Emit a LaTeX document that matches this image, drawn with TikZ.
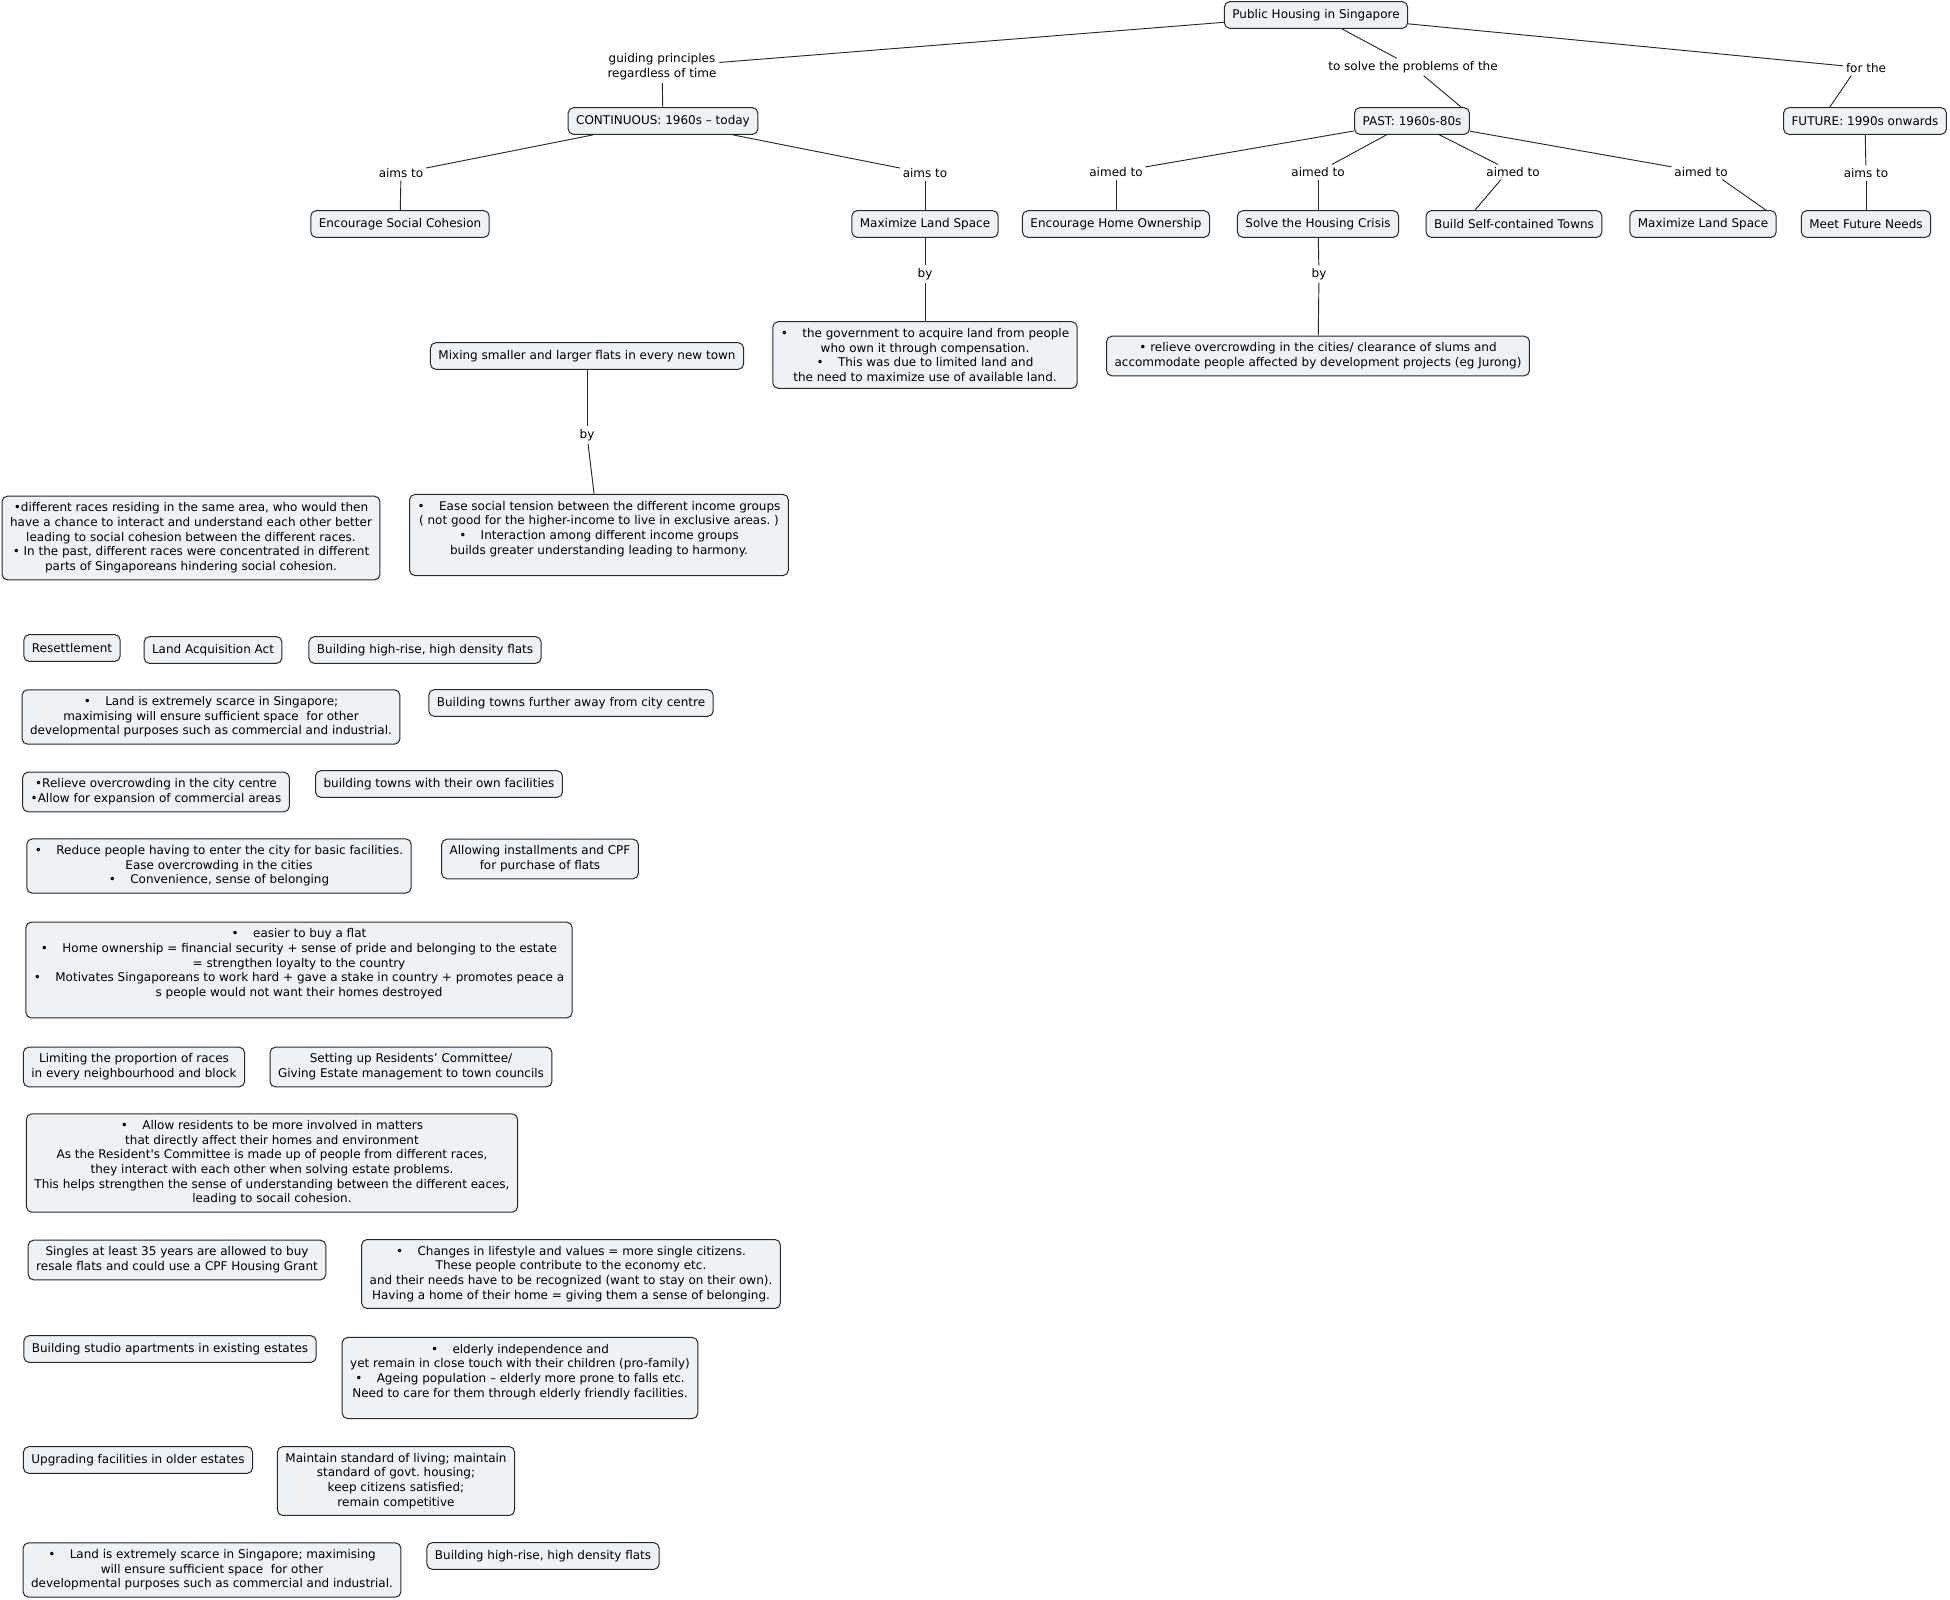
\documentclass[tikz,border=0pt]{standalone}
\usepackage{fontspec}
\setmainfont{DejaVu Sans}
\usepackage{tikz}
\frenchspacing
\definecolor{cmap_fill}{RGB}{236, 242, 245}
\definecolor{cmap_line}{RGB}{40, 40, 40}
\newcommand{\bpt}{•\hspace{1.2em}}
\tikzset{
  concept/.style = {draw=cmap_line, fill=cmap_fill, rounded corners=4pt, align=center,
  inner xsep=6pt, inner ysep=5pt, line width=0.75pt},
  single/.style = {concept, minimum height=20pt},
  linkword/.style = {align=center, inner sep=2pt}
}

\begin{document}
\begin{tikzpicture}[x=0.75pt, y=-0.75pt, font=\fontsize{9}{11}\selectfont,
	        link/.style={draw=cmap_line, line width=0.7pt}]
	        \useasboundingbox (0,0) rectangle (1950,1600);
	        % top of the map
	        \node [single] (phs) at (1316,15) {Public Housing in Singapore};
	        \node [linkword] (guide) at (662,67) {guiding principles\\regardless of time};
	        \node [linkword] (solve) at (1413,67) {to solve the problems of the};
	        \node [linkword] (forthe) at (1866,68) {for the};
	        \node [single] (cont) at (663,121) {CONTINUOUS: 1960s – today};
	        \node [single] (past) at (1412,121) {PAST: 1960s-80s};
	        \node [single] (fut) at (1865,121) {FUTURE: 1990s onwards};
	        \node [linkword] (aim1) at (401,173) {aims to};
	        \node [linkword] (aim2) at (925,173) {aims to};
	        \node [linkword] (pa1) at (1116,172) {aimed to};
	        \node [linkword] (pa2) at (1318,172) {aimed to};
	        \node [linkword] (pa3) at (1513,172) {aimed to};
	        \node [linkword] (pa4) at (1701,172) {aimed to};
	        \node [linkword] (fa) at (1866,173) {aims to};
	        \node [single] (soc) at (400,224) {Encourage Social Cohesion};
	        \node [single] (maxl) at (925,224) {Maximize Land Space};
	        \node [single] (home) at (1116,224) {Encourage Home Ownership};
	        \node [single] (crisis) at (1318,224) {Solve the Housing Crisis};
	        \node [single] (towns) at (1514,224) {Build Self-contained Towns};
	        \node [single] (maxr) at (1703,224) {Maximize Land Space};
	        \node [single] (needs) at (1866,224) {Meet Future Needs};
	        \node [linkword] (by1) at (925,274) {by};
	        \node [linkword] (by2) at (1319,274) {by};
	        \node [concept] (acq) at (925,355) {\bpt the government to acquire land from people\\who own it through compensation.\\\bpt This was due to limited land and\\the need to maximize use of available land.};
	        \node [concept] (slums) at (1318,356) {• relieve overcrowding in the cities/ clearance of slums and\\accommodate people affected by development projects (eg Jurong)};
	        \node [single] (mix) at (587,356) {Mixing smaller and larger flats in every new town};
	        \node [linkword] (by3) at (587,435) {by};
	        \node [concept] (ease) at (599,535) {\bpt Ease social tension between the different income groups\\( not good for the higher-income to live in exclusive areas. )\\\bpt Interaction among different income groups\\builds greater understanding leading to harmony.\\\mbox{}};
	        \node [concept] (races) at (191,538) {•different races residing in the same area, who would then\\have a chance to interact and understand each other better\\leading to social cohesion between the different races.\\• In the past, different races were concentrated in different\\parts of Singaporeans hindering social cohesion.};

	        \draw [link] (phs) -- (guide);
	        \draw [link] (guide) -- (cont);
	        \draw [link] (phs) -- (solve);
	        \draw [link] ([xshift=8]solve.south) -- ([xshift=37]past.north);
	        \draw [link] (phs) -- (forthe);
	        \draw [link] ([xshift=-11]forthe.south) -- ([xshift=35]fut.north west);
	        \draw [link] (cont) -- (aim1);
	        \draw [link] (aim1) -- (soc);
	        \draw [link] (cont) -- (aim2);
	        \draw [link] (aim2) -- (maxl);
	        \draw [link] (maxl) -- (by1);
	        \draw [link] (by1) -- (acq);
	        \draw [link] (past) -- (pa1);
	        \draw [link] (pa1) -- (home);
	        \draw [link] (past) -- (pa2);
	        \draw [link] (pa2) -- (crisis);
	        \draw [link] (crisis) -- (by2);
	        \draw [link] (by2) -- (slums);
	        \draw [link] (past) -- (pa3);
	        \draw [link] ([xshift=-9]pa3.south) -- ([xshift=37]towns.north west);
	        \draw [link] (past) -- (pa4);
	        \draw [link] ([xshift=16]pa4.south) -- ([xshift=-8]maxr.north east);
	        \draw [link] (fut) -- (fa);
	        \draw [link] (fa) -- (needs);
	        \draw [link] (mix) -- (by3);
	        \draw [link] (by3) -- (ease);

	        % loose concepts down the left side
	        \node [single] (resettle) at (72,648) {Resettlement};
	        \node [single] (laa) at (213,650) {Land Acquisition Act};
	        \node [single] (hrise1) at (425,650) {Building high-rise, high density flats};
	        \node [concept] (scarce1) at (211,717) {\bpt Land is extremely scarce in Singapore;\\maximising will ensure sufficient space\ \ for other\\developmental purposes such as commercial and industrial.};
	        \node [single] (further) at (571,703) {Building towns further away from city centre};
	        \node [concept] (relieve) at (156,792) {•Relieve overcrowding in the city centre\\•Allow for expansion of commercial areas};
	        \node [single] (ownfac) at (439,784) {building towns with their own facilities};
	        \node [concept] (reduce) at (219,866) {\bpt Reduce people having to enter the city for basic facilities.\\Ease overcrowding in the cities\\\bpt Convenience, sense of belonging};
	        \node [concept] (instal) at (540,859) {Allowing installments and CPF\\for purchase of flats};
	        \node [concept] (easier) at (299,970) {\bpt easier to buy a flat\\\bpt Home ownership = financial security + sense of pride and belonging to the estate\\= strengthen loyalty to the country\\\bpt Motivates Singaporeans to work hard + gave a stake in country + promotes peace a\\s people would not want their homes destroyed\\\mbox{}};
	        \node [concept] (limit) at (134,1067) {Limiting the proportion of races\\in every neighbourhood and block};
	        \node [concept] (rc) at (411,1067) {Setting up Residents’ Committee/\\Giving Estate management to town councils};
	        \node [concept] (involve) at (272,1163) {\bpt Allow residents to be more involved in matters\\that directly affect their homes and environment\\As the Resident\textquotesingle s Committee is made up of people from different races,\\they interact with each other when solving estate problems.\\This helps strengthen the sense of understanding between the different eaces,\\leading to socail cohesion.};
	        \node [concept] (singles) at (177,1260) {Singles at least 35 years are allowed to buy\\resale flats and could use a CPF Housing Grant};
	        \node [concept] (life) at (571,1274) {\bpt Changes in lifestyle and values = more single citizens.\\These people contribute to the economy etc.\\and their needs have to be recognized (want to stay on their own).\\Having a home of their home = giving them a sense of belonging.};
	        \node [single] (studio) at (170,1349) {Building studio apartments in existing estates};
	        \node [concept] (elderly) at (520,1378) {\bpt elderly independence and\\yet remain in close touch with their children (pro-family)\\\bpt Ageing population – elderly more prone to falls etc.\\Need to care for them through elderly friendly facilities.\\\mbox{}};
	        \node [single] (upgrade) at (138,1460) {Upgrading facilities in older estates};
	        \node [concept] (maintain) at (396,1481) {Maintain standard of living; maintain\\standard of govt. housing;\\keep citizens satisfied;\\remain competitive};
	        \node [concept] (scarce2) at (212,1570) {\bpt Land is extremely scarce in Singapore; maximising\\will ensure sufficient space\ \ for other\\developmental purposes such as commercial and industrial.};
	        \node [single] (hrise2) at (543,1556) {Building high-rise, high density flats};
        \end{tikzpicture}
\end{document}
